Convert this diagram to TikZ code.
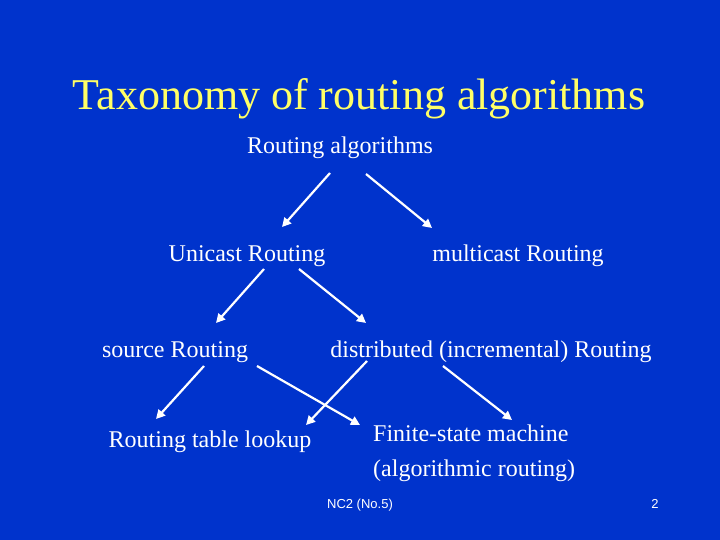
\documentclass[tikz,border=0pt]{standalone}
\usepackage{fontspec}
\setmainfont{Liberation Serif}
\newfontfamily\footfont{Liberation Sans}
\usetikzlibrary{arrows.meta}
\definecolor{slidebg}{RGB}{0,51,204}
\definecolor{titleyellow}{RGB}{255,255,102}
\begin{document}
\begin{tikzpicture}[x=1pt,y=-1pt,
  lbl/.style={text=white,font=\fontsize{24}{35}\selectfont,anchor=base,inner sep=0pt},
  conn/.style={draw=white,line width=2.2pt,-{Triangle[length=9pt,width=9pt]}},
  foot/.style={text=white,font=\footfont\fontsize{13}{15}\selectfont,anchor=base,inner sep=0pt}]
\fill[slidebg] (0,0) rectangle (720,540);
\useasboundingbox (0,0) rectangle (720,540);
\node[anchor=base,inner sep=0pt,text=titleyellow,font=\fontsize{44}{50}\selectfont] (title) at (359,110) {Taxonomy of routing algorithms};
\node[lbl] (root) at (340,154) {Routing algorithms};
\node[lbl] (uni) at (247,261) {Unicast Routing};
\node[lbl] (multi) at (518,261) {multicast Routing};
\node[lbl] (src) at (175,357) {source Routing};
\node[lbl] (dist) at (491,357) {distributed (incremental) Routing};
\node[lbl] (table) at (210,447) {Routing table lookup};
\node[lbl,anchor=base west,align=left] (fsm) at (373,476) {Finite-state machine\\(algorithmic routing)};
\node[foot] (nc) at (360,508) {NC2 (No.5)};
\node[foot] (pg) at (655,508) {2};
% connector endpoints
\coordinate (r1) at (330,173); \coordinate (u1) at (282,227);
\coordinate (r2) at (366,174); \coordinate (m1) at (432,228);
\coordinate (u2) at (264,269); \coordinate (s1) at (216,323);
\coordinate (u3) at (299,269); \coordinate (d1) at (366,323);
\coordinate (s2) at (204,366); \coordinate (t1) at (156,419);
\coordinate (s3) at (257,366); \coordinate (f1) at (360,425);
\coordinate (d2) at (367,361); \coordinate (t2) at (306,425);
\coordinate (d3) at (443,366); \coordinate (f2) at (512,420);
\draw[conn] (r1) -- (u1);
\draw[conn] (r2) -- (m1);
\draw[conn] (u2) -- (s1);
\draw[conn] (u3) -- (d1);
\draw[conn] (s2) -- (t1);
\draw[conn] (s3) -- (f1);
\draw[conn] (d2) -- (t2);
\draw[conn] (d3) -- (f2);
\end{tikzpicture}
\end{document}
